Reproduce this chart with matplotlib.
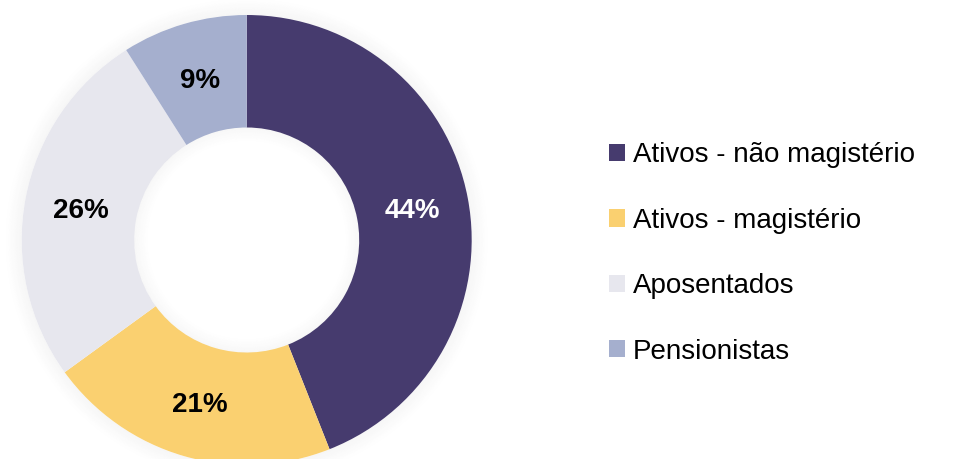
import matplotlib
matplotlib.use("Agg")
import matplotlib.pyplot as plt
from matplotlib.patches import Wedge, Patch
import math

categories = ["Ativos - não magistério", "Ativos - magistério", "Aposentados", "Pensionistas"]
values = [44, 21, 26, 9]
colors = ["#463B6E", "#FAD070", "#E7E7EE", "#A5AFCE"]
label_colors = ["white", "black", "black", "black"]

plt.rcParams['font.family'] = ['Liberation Sans', 'DejaVu Sans']

W, H = 972, 459
fig = plt.figure(figsize=(W / 100, H / 100), dpi=100)
fig.patch.set_facecolor("white")

cx, cy, R = 246.7, 240.0, 225.0
ax = fig.add_axes([(cx - R) / W, (H - cy - R) / H, 2 * R / W, 2 * R / H])
ax.set_xlim(-1, 1)
ax.set_ylim(-1, 1)
ax.axis("off")

# soft shadow outside the ring
n = 12
for i in range(n):
    r = 1.0 + 0.006 * (i + 1)
    ax.add_patch(Wedge((0, 0), r, 0, 360, width=0.006, facecolor="black",
                       alpha=0.035 * (1 - i / n), linewidth=0, zorder=0,
                       clip_on=False))

wedges, texts = ax.pie(values, colors=colors, startangle=90, counterclock=False,
                       radius=1.0, wedgeprops=dict(width=0.5, linewidth=0),
                       frame=False)
for w in wedges:
    w.set_zorder(1)
    w.set_clip_on(False)

# soft shadow inside the hole
for i in range(n):
    r = 0.5 - 0.005 * i
    ax.add_patch(Wedge((0, 0), r, 0, 360, width=0.005, facecolor="black",
                       alpha=0.03 * (1 - i / n), linewidth=0, zorder=2))

start = 90.0
total = sum(values)
for v, c in zip(values, label_colors):
    ang = start - v / total * 360 / 2
    start -= v / total * 360
    x = 0.75 * math.cos(math.radians(ang))
    y = 0.75 * math.sin(math.radians(ang)) - 0.012
    ax.text(x, y, f"{v}%", ha="center", va="center", fontsize=20,
            fontweight="bold", color=c, zorder=5)

ax.set_xlim(-1, 1)
ax.set_ylim(-1, 1)

handles = [Patch(facecolor=c, edgecolor="none") for c in colors]
fig.legend(handles, categories, loc="center left",
           bbox_to_anchor=(609 / W, 1 - 253.5 / H), frameon=False,
           fontsize=20, handlelength=0.57, handleheight=0.57,
           handletextpad=0.3, labelspacing=1.42, borderpad=0, borderaxespad=0)

fig.savefig("out.png", dpi=100, facecolor="white")
